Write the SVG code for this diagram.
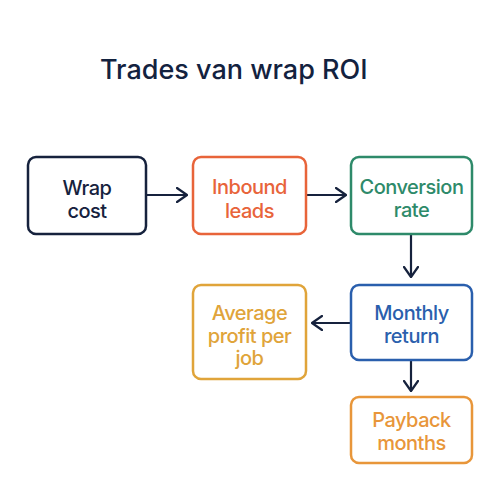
<svg xmlns="http://www.w3.org/2000/svg" width="500" height="500" viewBox="0 0 500 500">
<defs>
<style>
.box{fill:#fff;stroke-width:2.5}
.t{font-family:Inter,"Liberation Sans",sans-serif;font-size:20px;font-weight:500;letter-spacing:-0.5px;text-anchor:middle}
.c{stroke:#16223d;stroke-width:2.2;fill:none}
</style>
<marker id="ah" viewBox="0 0 12 16" refX="11" refY="8" markerWidth="12" markerHeight="16" markerUnits="userSpaceOnUse" orient="auto">
<path d="M1,1 L11,8 L1,15" fill="none" stroke="#16223d" stroke-width="2.2" stroke-linecap="round" stroke-linejoin="round"/>
</marker>
</defs>
<rect width="500" height="500" fill="#fff"/>
<text x="100" y="79" font-family="Inter,'Liberation Sans',sans-serif" font-size="27" font-weight="500" fill="#13223f">Trades van wrap ROI</text>
<g id="connectors">
<line class="c" x1="146" y1="195" x2="187" y2="195" marker-end="url(#ah)"/>
<line class="c" x1="306" y1="195" x2="346" y2="195" marker-end="url(#ah)"/>
<line class="c" x1="411" y1="234" x2="411" y2="277" marker-end="url(#ah)"/>
<line class="c" x1="351" y1="323" x2="312" y2="323" marker-end="url(#ah)"/>
<line class="c" x1="411" y1="360" x2="411" y2="391" marker-end="url(#ah)"/>
</g>
<g id="wrap-cost">
<rect class="box" x="28" y="157" width="118" height="77" rx="8" stroke="#16223d"/>
<text class="t" x="87" y="195" fill="#16223d">Wrap<tspan x="87" dy="23">cost</tspan></text>
</g>
<g id="inbound-leads">
<rect class="box" x="193" y="157" width="113" height="77" rx="8" stroke="#e8643a"/>
<text class="t" x="249.5" y="194" fill="#e8643a">Inbound<tspan x="249.5" dy="24">leads</tspan></text>
</g>
<g id="conversion-rate">
<rect class="box" x="351" y="157" width="121" height="77" rx="8" stroke="#2e8a6a"/>
<text class="t" x="411.5" y="194" fill="#2e8a6a">Conversion<tspan x="411.5" dy="22.5">rate</tspan></text>
</g>
<g id="monthly-return">
<rect class="box" x="351" y="285" width="121" height="75" rx="8" stroke="#2a5fad"/>
<text class="t" x="411.5" y="320" fill="#2a5fad">Monthly<tspan x="411.5" dy="23">return</tspan></text>
</g>
<g id="average-profit">
<rect class="box" x="193" y="285" width="113" height="94" rx="8" stroke="#e0a43a"/>
<text class="t" x="249.5" y="320" fill="#e0a43a">Average<tspan x="249.5" dy="22.5">profit per</tspan><tspan x="249.5" dy="22.5">job</tspan></text>
</g>
<g id="payback-months">
<rect class="box" x="351" y="397" width="121" height="66" rx="8" stroke="#e8963a"/>
<text class="t" x="411.5" y="427" fill="#e8963a">Payback<tspan x="411.5" dy="22.5">months</tspan></text>
</g>
</svg>
